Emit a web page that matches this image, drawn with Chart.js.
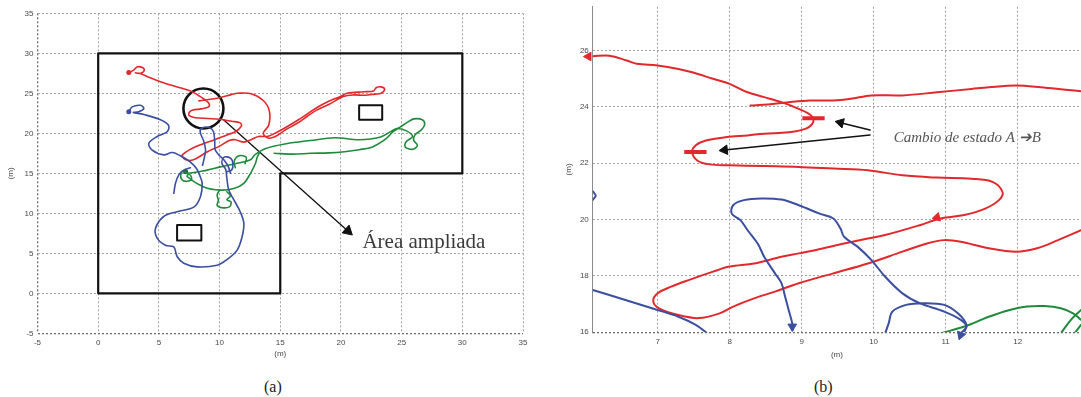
<!DOCTYPE html>
<html><head><meta charset="utf-8">
<script src="https://cdn.jsdelivr.net/npm/chart.js@4.4.0/dist/chart.umd.min.js"></script>
<style>
html,body{margin:0;padding:0;background:#fff;width:1081px;height:397px;overflow:hidden}
#ca{position:absolute;left:0;top:0}
#cb{position:absolute;left:540px;top:0}
.cap{position:absolute;top:378px;line-height:19px;font:16px "Liberation Serif","Times New Roman",serif;color:#222}
</style></head><body>
<canvas id="ca" width="540" height="362"></canvas>
<canvas id="cb" width="541" height="362"></canvas>
<div class="cap" style="left:264px">(a)</div>
<div class="cap" style="left:814px">(b)</div>
<script>
// ---------- Panel (a) data ----------
const A_X_TICKS = [-5,0,5,10,15,20,25,30,35];
const A_Y_TICKS = [-5,0,5,10,15,20,25,30,35];
const A_AREA = [[0,0],[0,30],[30,30],[30,15],[15,15],[15,0],[0,0]];
const A_RECT_1 = [[21.5,21.7],[23.4,21.7],[23.4,23.5],[21.5,23.5],[21.5,21.7]];
const A_RECT_2 = [[6.5,6.6],[8.5,6.6],[8.5,8.55],[6.5,8.55],[6.5,6.6]];
const A_CIRCLE = [[8.67,23.1]];
const A_POINTER = [[10.35,21.66],[20.57,7.79]];
const A_POINTER_HEAD = [[20.57,7.79]];
const A_LABEL = {text:"Área ampliada", x:21.77, y:6.4};
const A_RED = [[2.52,27.6],[2.93,27.9],[3.2,28.3],[3.6,28.25],[3.8,27.9],[3.5,27.5],[3.07,27.55],[3.5,27.45],[4.03,27.1],[5.13,26.45],[6.5,25.8],[7.6,25.3],[8.3,24.7],[8.8,24.2],[9.13,23.7],[9.1,23.3],[8.5,23.05],[7.8,22.9],[7.5,22.6],[7.5,22.2],[8.0,21.95],[9.0,21.85],[10.0,21.75],[11.0,21.5],[11.7,21.3],[11.8,20.9],[11.3,20.2],[10.6,19.8],[9.6,19.2],[8.5,18.6],[7.6,18.0],[7.0,17.4],[6.95,17.0],[7.4,16.6],[8.0,16.8],[9.0,17.7],[10.0,18.4],[10.8,19.1],[11.3,19.2],[12.0,18.9],[12.6,19.2],[13.2,19.6],[13.9,19.6],[14.3,19.8],[15.3,20.6],[16.4,21.6],[17.2,22.4],[18.0,23.2],[19.0,24.0],[19.95,24.6],[20.5,25.0],[21.9,25.2],[22.7,25.3],[22.9,25.7],[23.3,25.8],[23.6,25.5],[23.3,25.0],[22.8,24.9],[22.0,24.75],[21.05,24.8],[20.2,24.6],[19.0,23.6],[18.0,22.9],[17.2,22.1],[16.4,21.25],[15.4,20.4],[14.6,19.6],[14.0,19.4],[13.6,20.0],[14.05,21.0],[14.1,22.8],[13.6,24.1],[12.6,24.95],[11.5,25.0],[10.9,24.8],[10.0,24.45],[9.0,24.2],[8.3,24.05]];
const A_BLUE_1 = [[2.52,22.7],[2.8,23.3],[3.48,23.5],[3.76,23.1],[3.35,22.7],[2.9,22.6],[3.76,22.35],[5.13,21.7],[5.8,21.0],[5.68,20.2],[4.86,19.6],[4.17,18.75],[4.45,17.9],[5.4,17.3],[6.1,17.6],[7.0,17.0],[7.6,16.4],[8.1,15.6],[8.4,14.6],[8.57,13.75],[8.43,12.1],[7.9,10.8],[6.5,10.2],[5.4,9.6],[4.72,8.1],[4.86,6.9],[5.54,6.0],[6.23,5.8],[6.5,4.6],[7.05,3.75],[8.15,3.3],[9.8,3.5],[10.6,4.2],[11.45,5.4],[11.86,7.1],[12.0,8.75],[11.7,10.2],[11.17,11.7],[10.76,12.9],[10.6,14.4],[10.5,15.5],[10.2,16.2],[10.35,17.0],[10.9,16.9],[11.1,16.2],[11.0,15.4],[10.6,15.2]];
const A_BLUE_2 = [[8.6,16.0],[8.75,17.0],[8.85,17.9],[8.7,19.0],[8.4,20.2],[8.6,20.7],[9.2,20.7],[9.5,20.2],[9.6,19.0],[9.65,17.9],[10.0,17.2],[10.35,16.7],[10.7,15.9],[10.9,15.0]];
const A_BLUE_3 = [[6.23,12.5],[6.37,13.75],[6.64,14.8],[7.05,15.4],[7.6,15.7]];
const A_GREEN_1 = [[14.5,17.5],[16,17.4],[17.5,17.5],[19,17.55],[20.3,17.7],[21.5,17.95],[22.6,18.3],[23.7,19.3],[24.3,20.2],[24.9,20.8],[25.5,21.4],[26.0,21.8],[26.7,21.7],[26.9,21.1],[26.6,20.4],[26.1,19.8],[26.0,19.1],[26.3,18.5],[25.9,18.0],[25.3,18.3],[25.4,19.0],[25.9,19.6],[25.4,20.3],[24.6,20.6],[24.2,20.3],[23.2,19.5],[21.5,19.2],[19.5,19.45],[17.5,19.1],[15.5,18.7],[13.8,18.1],[12.9,17.3],[12.55,16.7],[11.45,16.25],[10.07,15.8],[8.98,15.4],[7.33,15.0],[7.0,15.3],[6.8,14.8],[6.9,14.2],[7.3,14.0],[7.7,14.3],[7.5,14.9],[7.33,14.6],[8.7,13.3],[10.07,12.9],[11.17,13.1],[12.0,13.75],[12.55,15.0],[12.96,16.25],[13.1,17.0],[13.3,17.6]];
const A_GREEN_2 = [[10.0,12.9],[9.8,12.3],[9.9,11.6],[9.8,11.0],[10.2,10.7],[10.8,10.8],[10.95,11.4],[10.6,11.7],[10.9,12.2],[10.6,12.7]];
const A_GREEN_3 = [[11.3,15.7],[11.2,16.5],[11.6,17.2],[12.2,17.0],[12.1,16.2]];
const A_START_RED = [[2.52,27.6]];
const A_START_BLUE = [[2.52,22.7]];
const A_START_GREEN = [[7.2,15.2]];

// ---------- Panel (b) data ----------
const B_X_TICKS = [7,8,9,10,11,12];
const B_Y_TICKS = [16,18,20,22,24,26];
const B_RED_1 = [[6.1,25.8],[6.33,25.82],[6.57,25.65],[6.71,25.53],[7.0,25.47],[7.29,25.35],[7.48,25.23],[7.77,25.0],[8.0,24.82],[8.25,24.52],[8.48,24.35],[8.72,24.17],[8.96,23.93],[9.13,23.7],[9.16,23.46],[9.06,23.23],[8.82,23.1],[8.48,23.05],[8.25,22.99],[7.96,22.93],[7.67,22.81],[7.53,22.64],[7.48,22.4],[7.55,22.1],[7.72,21.96],[8.0,21.93],[8.48,21.9],[8.96,21.87],[9.44,21.81],[9.92,21.75],[10.4,21.57],[10.88,21.49],[11.36,21.45],[11.65,21.34],[11.79,20.98],[11.74,20.69],[11.55,20.39],[11.26,20.16],[10.93,20.04],[10.64,19.8],[10.16,19.45],[9.92,19.33],[9.59,19.15],[9.2,18.92],[8.96,18.8],[8.72,18.68],[8.34,18.44],[8.0,18.33],[7.77,18.15],[7.43,17.85],[7.19,17.62],[7.0,17.38],[6.94,17.09],[7.02,16.85],[7.29,16.61],[7.57,16.5],[7.86,16.67],[8.05,16.91],[8.34,17.2],[8.63,17.44],[8.96,17.74],[9.44,18.09],[9.92,18.44],[10.4,18.86],[10.74,19.15],[10.98,19.27],[11.21,19.21],[11.6,18.98],[11.98,18.86],[12.27,18.98],[12.56,19.27],[12.88,19.62]];
const B_RED_2 = [[8.29,24.05],[8.53,24.09],[8.82,24.17],[9.11,24.23],[9.44,24.23],[9.68,24.29],[9.97,24.41],[10.4,24.41],[10.88,24.52],[11.36,24.64],[11.6,24.7],[11.98,24.76],[12.32,24.7],[12.7,24.6],[12.88,24.56]];
const B_BLUE_1 = [[6.1,17.5],[6.33,17.32],[6.62,17.09],[7.0,16.79],[7.29,16.55],[7.53,16.26],[7.69,15.96]];
const B_BLUE_2 = [[8.88,16.1],[8.87,16.32],[8.82,16.79],[8.77,17.27],[8.72,17.74],[8.63,18.09],[8.48,18.68],[8.39,19.15],[8.25,19.62],[8.15,19.98],[8.03,20.21],[8.05,20.51],[8.2,20.69],[8.44,20.75],[8.72,20.71],[8.96,20.51],[9.25,20.21],[9.44,20.04],[9.54,19.68],[9.59,19.39],[9.78,19.03],[9.97,18.56],[10.16,17.97],[10.4,17.38],[10.64,17.03],[10.98,16.73],[11.21,16.44],[11.29,16.2],[11.21,15.96]];
const B_BLUE_3 = [[10.16,15.96],[10.21,16.32],[10.26,16.73],[10.45,16.97],[10.69,17.03],[10.98,16.97],[11.17,16.67],[11.29,16.26],[11.26,16.02]];
const B_BLUE_4 = [[6.1,21.0],[6.14,20.85],[6.1,20.7]];
const B_GREEN_1 = [[10.93,15.96],[11.26,16.2],[11.6,16.55],[11.89,16.79],[12.13,16.91],[12.37,16.93],[12.6,16.85],[12.77,16.67],[12.88,16.44]];
const B_GREEN_2 = [[12.6,15.96],[12.74,16.44],[12.88,16.79]];
const B_GREEN_3 = [[12.79,15.96],[12.88,16.26]];
const B_BAR_1 = [[9.01,23.6],[9.32,23.6]];
const B_BAR_2 = [[7.37,22.4],[7.68,22.4]];
const B_RED_HEAD_1 = [[6.04,25.79]];
const B_RED_HEAD_2 = [[10.88,20.08]];
const B_BLUE_HEAD_1 = [[8.87,16.2]];
const B_BLUE_HEAD_2 = [[11.21,15.9]];
const B_POINTER_1 = [[9.95,23.18],[9.54,23.44]];
const B_POINTER_2 = [[9.95,23.0],[7.93,22.47]];
const B_LABEL = {text:"Cambio de estado A \u2794B", x:10.28, y:22.9};

// ---------- helpers ----------
const RED='#e2282c', BLUE='#3c4ea0', GREEN='#1f8a3c', INK='#111';
const pts = a => a.map(p=>({x:p[0],y:p[1]}));
function line(a,color,w,t){return {data:pts(a),showLine:true,borderColor:color,borderWidth:w,pointRadius:0,pointHoverRadius:0,tension:t,fill:false,borderCapStyle:'round',borderJoinStyle:'round'};}
function head(a,color,r,rot){return {data:pts(a),showLine:false,pointStyle:'triangle',pointRadius:r,pointHoverRadius:r,pointRotation:rot,backgroundColor:color,borderColor:color,borderWidth:1,clip:false};}
function dot(a,color,r){return {data:pts(a),showLine:false,pointStyle:'circle',pointRadius:r,pointHoverRadius:r,backgroundColor:color,borderColor:color,borderWidth:0};}
function notes(label,font,color){return {id:'notes',afterDatasetsDraw(chart){const c=chart.ctx;c.save();c.font=font;c.fillStyle=color;c.textAlign='left';c.textBaseline='middle';c.fillText(label.text,chart.scales.x.getPixelForValue(label.x),chart.scales.y.getPixelForValue(label.y));c.restore();}};}
const TICKFONT={family:'"Liberation Sans", Arial, sans-serif',size:8};
function axis(ticks,min,max,fix,isX,edge,opts){
  return Object.assign({type:'linear',min:min,max:max,
    afterBuildTicks:s=>{s.ticks=ticks.map(v=>({value:v}));},
    afterFit:s=>{ if(isX) s.height=fix; else s.width=fix; s.paddingTop=0; s.paddingBottom=0; s.paddingLeft=0; s.paddingRight=0; },
    ticks:{font:TICKFONT,color:'#4a4a4a',padding:isX?5:4,autoSkip:false,maxRotation:0,includeBounds:false},
    grid:{drawTicks:false,color:c=>(c.tick&&c.tick.value===edge)?'#6e6e6e':'#a3a3a3',lineWidth:c=>(c.tick&&c.tick.value===edge)?1.3:1},
    border:{display:false,dash:[2,2]},
    title:{display:true,text:'(m)',font:TICKFONT,color:'#4a4a4a',padding:0}
  },opts||{});
}
const common={responsive:false,animation:false,events:[],plugins:{legend:{display:false},tooltip:{enabled:false}}};

// ---------- Chart (a) ----------
new Chart(document.getElementById('ca'),{
  type:'scatter',
  data:{datasets:[
    line(A_AREA,INK,2.2,0),
    line(A_RECT_1,INK,2,0),
    line(A_RECT_2,INK,2,0),
    line(A_BLUE_3,BLUE,1.6,0.35),
    line(A_BLUE_2,BLUE,1.6,0.35),
    line(A_BLUE_1,BLUE,1.6,0.35),
    line(A_GREEN_2,GREEN,1.6,0.35),
    line(A_GREEN_3,GREEN,1.6,0.35),
    line(A_GREEN_1,GREEN,1.6,0.35),
    line(A_RED,RED,1.6,0.35),
    dot(A_START_RED,RED,2.5),
    dot(A_START_BLUE,BLUE,2.5),
    dot(A_START_GREEN,'#106a28',2.5),
    {data:pts(A_CIRCLE),showLine:false,pointStyle:'circle',pointRadius:20,pointHoverRadius:20,backgroundColor:'rgba(0,0,0,0)',borderColor:INK,borderWidth:2.6,clip:false},
    line(A_POINTER,INK,1.3,0),
    head(A_POINTER_HEAD,INK,6,131.8)
  ]},
  options:Object.assign({},common,{
    layout:{autoPadding:false,padding:{left:6,top:13.3,right:17,bottom:3.7}},
    scales:{
      x:axis(A_X_TICKS,-5,35,25,true,-5),
      y:axis(A_Y_TICKS,-5,35,31.5,false,-5)
    }
  }),
  plugins:[notes(A_LABEL,'21px "Liberation Serif", "Times New Roman", serif','#3a3a3a')]
});

// ---------- Chart (b) ----------
new Chart(document.getElementById('cb'),{
  type:'scatter',
  data:{datasets:[
    line(B_BLUE_1,BLUE,2,0.35),
    line(B_BLUE_2,BLUE,2,0.35),
    line(B_BLUE_3,BLUE,2,0.35),
    line(B_BLUE_4,BLUE,2,0.35),
    line(B_GREEN_1,GREEN,2,0.35),
    line(B_GREEN_2,GREEN,2,0.35),
    line(B_GREEN_3,GREEN,2,0.35),
    line(B_RED_1,RED,2,0.35),
    line(B_RED_2,RED,2,0.35),
    Object.assign(line(B_BAR_1,RED,4,0),{borderCapStyle:'butt'}),
    Object.assign(line(B_BAR_2,RED,4,0),{borderCapStyle:'butt'}),
    head(B_RED_HEAD_1,RED,5,270),
    head(B_RED_HEAD_2,RED,5,257),
    head(B_BLUE_HEAD_1,BLUE,5,180),
    head(B_BLUE_HEAD_2,BLUE,5,200),
    line(B_POINTER_1,INK,1.5,0),
    line(B_POINTER_2,INK,1.5,0),
    head([B_POINTER_1[1]],INK,5.5,283.5),
    head([B_POINTER_2[1]],INK,5.5,264)
  ]},
  options:Object.assign({},common,{
    layout:{autoPadding:false,padding:{left:24.2,top:6.7,right:0,bottom:2.2}},
    scales:{
      x:axis(B_X_TICKS,6.1,12.88,27.6,true,null,{}),
      y:axis(B_Y_TICKS,16,27.56,28.6,false,16,{border:{display:true,color:'#8a8a8a',width:1,dash:[2,2]}})
    }
  }),
  plugins:[notes(B_LABEL,'italic 15px "Liberation Serif", "Times New Roman", serif','#555')]
});
</script>
</body></html>
